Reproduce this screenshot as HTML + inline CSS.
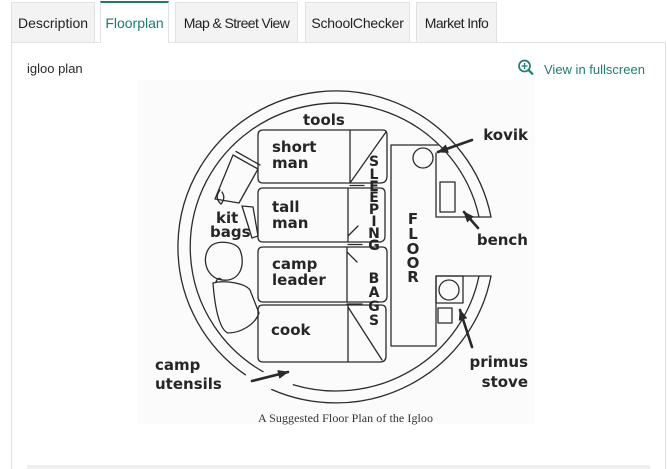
<!DOCTYPE html>
<html>
<head>
<meta charset="utf-8">
<style>
html,body{margin:0;padding:0;background:#fff;width:667px;height:469px;overflow:hidden;}
body{position:relative;font-family:"Liberation Sans","DejaVu Sans",sans-serif;}
.tab{position:absolute;top:2px;height:40px;box-sizing:border-box;background:#f3f3f3;border:1px solid #e1e1e1;border-bottom:none;color:#222;font-size:14px;line-height:40px;text-align:center;white-space:nowrap;}
.tab.active{top:1px;height:42px;background:#fff;border-top:2px solid #1c7d6f;color:#1c7d6f;line-height:40px;z-index:3;}
.panel{position:absolute;left:11px;top:42px;width:655px;height:427px;box-sizing:border-box;border:1px solid #e1e1e1;border-bottom:none;background:#fff;z-index:1;}
.lbl{position:absolute;font-size:13px;color:#2a2a2a;white-space:nowrap;z-index:4;}
.fs{position:absolute;font-size:13px;color:#1f7e72;white-space:nowrap;z-index:4;}
svg{position:absolute;left:0;top:0;z-index:5;}
.bar{position:absolute;left:27px;top:465px;width:623px;height:4px;background:#f0f0f0;z-index:4;}
</style>
</head>
<body>
<div class="tab" style="left:11px;width:84px;">Description</div>
<div class="tab active" style="left:100px;width:69px;">Floorplan</div>
<div class="tab" style="left:175px;width:123px;letter-spacing:-0.6px;">Map &amp; Street View</div>
<div class="tab" style="left:305px;width:105px;letter-spacing:-0.2px;">SchoolChecker</div>
<div class="tab" style="left:416px;width:81px;letter-spacing:-0.6px;">Market Info</div>
<div class="panel"></div>
<div class="lbl" style="left:27px;top:61px;">igloo plan</div>
<div class="fs" style="left:544px;top:62px;">View in fullscreen</div>
<div class="bar"></div>

<svg width="667" height="469" viewBox="0 0 667 469" xmlns="http://www.w3.org/2000/svg">
  <defs>
    <marker id="ah" markerWidth="11" markerHeight="9" refX="10" refY="4.5" orient="auto" markerUnits="userSpaceOnUse">
      <path d="M0,0 L11,4.5 L0,9 Z" fill="#2a2a2a"/>
    </marker>
  </defs>
  <!-- magnifier icon -->
  <g stroke="#1f7e72" stroke-width="1.7" fill="none">
    <circle cx="524.5" cy="66" r="5.5"/>
    <line x1="528.5" y1="70" x2="533" y2="74.5" stroke-width="2.2"/>
    <line x1="521.5" y1="66" x2="527.5" y2="66" stroke-width="1.3"/>
    <line x1="524.5" y1="63" x2="524.5" y2="69" stroke-width="1.3"/>
  </g>

  <!-- image background -->
  <rect x="137" y="80" width="398" height="344" fill="#fbfbfb"/>

  <g stroke="#2b2b2b" stroke-width="1.3" fill="none" stroke-linejoin="round" stroke-linecap="round">
    <!-- igloo wall -->
    <path d="M491,217 A158,156 0 1,0 245.4,374.8"/>
    <path d="M271.7,389.5 A158,156 0 0,0 491,276"/>
    <path d="M479,217 A146,144 0 1,0 263,371.7"/>
    <path d="M293.3,384.7 A146,144 0 0,0 479,276"/>

    <!-- floor & fixtures -->
    <path d="M438,145 L391,145 L391,346 L436,346 L436,276 L491,276"/>
    <path d="M436,153 L436,217 L491,217"/>
    <rect x="440" y="182" width="15" height="30"/>
    <circle cx="423" cy="158" r="10"/>
    <rect x="436" y="276" width="27" height="27"/>
    <circle cx="449" cy="290" r="10"/>
    <rect x="438" y="308" width="14" height="15"/>

    <!-- sleeping bags -->
    <path d="M263,130 L383,130 Q387,130 387,135 L387,176 Q387,183 380,183 L263,183 Q258,183 258,178 L258,135 Q258,130 263,130 Z"/>
    <path d="M350,130 L350,183 M350,183 L386,132 M350,185.5 L364,185.5"/>
    <path d="M263,188 L380,188 Q385,188 385,193 L385,236 Q385,242 379,242 L263,242 Q258,242 258,237 L258,193 Q258,188 263,188 Z"/>
    <path d="M348,188 L348,242 M348,244.5 L362,244.5 M348,236 L358,226"/>
    <path d="M263,247 L382,247 Q387,247 387,252 L387,296 Q387,302 381,302 L263,302 Q258,302 258,297 L258,252 Q258,247 263,247 Z"/>
    <path d="M347,247 L347,302 M347,304 L362,304 M347,252 L357,262"/>
    <path d="M263,305 L381,305 Q386,305 386,310 L386,356 Q386,362 380,362 L263,362 Q258,362 258,357 L258,310 Q258,305 263,305 Z"/>
    <path d="M348,305 L348,362 M348,307 L382,360"/>

    <!-- kit bags -->
    <path d="M233,155 L258,169 L239,203 L215,199 Z"/>
    <path d="M236,151.5 L260,165"/>
    <path d="M220,190 Q214,198 221,204 Q226,198 222,192"/>
    <path d="M242,206 L253,207 L258,236 L252,238 Z"/>
    <path d="M212,245 C200,255 205,278 222,280 C240,282 246,265 240,250 C236,242 220,240 212,245 Z"/>
    <path d="M213,283 C225,280 245,283 250,290 L259,313 C255,325 240,333 228,333 C220,330 215,310 213,283 Z"/>
    <path d="M216,282 Q218,276 222,280"/>
  </g>

  <!-- arrows -->
  <g stroke="#2a2a2a" stroke-width="2.6" fill="none" stroke-linecap="round">
    <line x1="472" y1="140" x2="438" y2="152" marker-end="url(#ah)"/>
    <line x1="478" y1="228" x2="464" y2="212" marker-end="url(#ah)"/>
    <line x1="472" y1="347" x2="460" y2="310" marker-end="url(#ah)"/>
    <line x1="252" y1="381" x2="288" y2="372" marker-end="url(#ah)"/>
  </g>

  <!-- labels -->
  <g font-family="'DejaVu Sans','Liberation Sans',sans-serif" font-weight="bold" font-size="15" fill="#262626">
    <text x="303" y="125">tools</text>
    <text x="272" y="152">short</text>
    <text x="272" y="168">man</text>
    <text x="272" y="212">tall</text>
    <text x="272" y="228">man</text>
    <text x="272" y="269">camp</text>
    <text x="272" y="285">leader</text>
    <text x="271" y="335">cook</text>
    <text x="216" y="223">kit</text>
    <text x="210" y="237">bags</text>
    <text x="155" y="370">camp</text>
    <text x="155" y="389">utensils</text>
    <text x="528" y="140" text-anchor="end">kovik</text>
    <text x="528" y="245" text-anchor="end">bench</text>
    <text x="528" y="367" text-anchor="end">primus</text>
    <text x="528" y="387" text-anchor="end">stove</text>
  </g>
  <g font-family="'DejaVu Sans','Liberation Sans',sans-serif" font-weight="bold" font-size="14" fill="#262626" text-anchor="middle">
    <text x="374" y="166">S</text>
    <text x="374" y="179">L</text>
    <text x="374" y="191">E</text>
    <text x="374" y="202">E</text>
    <text x="374" y="214">P</text>
    <text x="374" y="226">I</text>
    <text x="374" y="238">N</text>
    <text x="374" y="250">G</text>
    <text x="374" y="283">B</text>
    <text x="374" y="297">A</text>
    <text x="374" y="311">G</text>
    <text x="374" y="325">S</text>
  </g>
  <g font-family="'DejaVu Sans','Liberation Sans',sans-serif" font-weight="bold" font-size="15" fill="#262626" text-anchor="middle">
    <text x="413" y="224">F</text>
    <text x="413" y="239">L</text>
    <text x="413" y="254">O</text>
    <text x="413" y="268">O</text>
    <text x="413" y="282">R</text>
  </g>
  <text x="258" y="422" font-family="'Liberation Serif',serif" font-size="12" fill="#333" textLength="175" lengthAdjust="spacing">A Suggested Floor Plan of the Igloo</text>
</svg>
</body>
</html>
